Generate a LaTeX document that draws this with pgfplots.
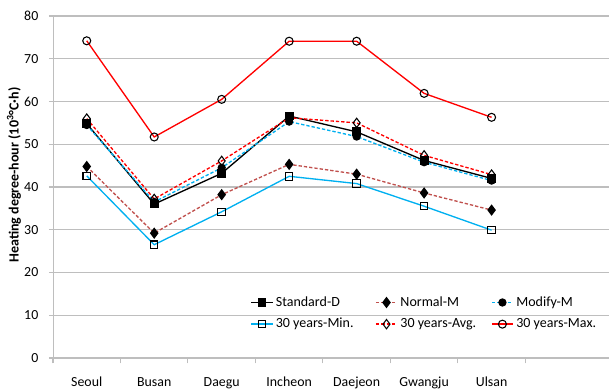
\documentclass[border=0pt]{standalone}
\usepackage{pgfplots}
\pgfplotsset{compat=1.18}
\usepackage{fontspec}
\setmainfont{Carlito}
\definecolor{lblue}{RGB}{0,176,240}
\definecolor{brn}{RGB}{192,80,77}
\definecolor{gridc}{RGB}{190,190,190}
\begin{document}
\begin{tikzpicture}
\begin{axis}[
  scale only axis, width=417pt, height=256.5pt,
  xmin=-0.5, xmax=7.74, ymin=0, ymax=80,
  axis x line*=bottom, axis y line*=left,
  axis line style={draw=gridc, -},
  ytick={0,10,...,80},
  ymajorgrids, grid style={draw=gridc, line width=0.8pt},
  xtick={0,...,6},
  xticklabels={Seoul,Busan,Daegu,Incheon,Daejeon,Gwangju,Ulsan},
  minor xtick={-0.5,0.5,...,6.5},
  major x tick style={draw=none},
  minor x tick style={draw=gridc, line width=0.8pt},
  major y tick style={draw=gridc, line width=0.8pt},
  tick align=outside, major tick length=3pt, minor tick length=4pt,
  xticklabel style={yshift=-8pt},
  yticklabel style={xshift=-4.5pt},
  tick label style={font=\fontsize{10.4}{13}\selectfont},
  /pgf/number format/assume math mode=true,
  ylabel={\textbf{Heating degree-hour (10\textsuperscript{3}°C·h)}},
  ylabel style={font=\fontsize{10.5}{13}\selectfont, at={(ticklabel cs:0.535,-4.5pt)}},
  legend columns=3,
  legend cell align=left,
  legend style={draw=none, fill=none, at={(0.355,0.188)}, anchor=north west,
    font=\fontsize{10.5}{12.5}\selectfont, row sep=3.5pt, inner sep=0pt,
    /tikz/every even column/.append style={column sep=0pt}},
  legend image code/.code={\draw[mark repeat=2,mark phase=2] plot coordinates {(0cm,0cm) (0.28cm,0cm) (0.56cm,0cm)};},
  every axis plot/.append style={line width=1pt},
]
\addplot[black, mark=square*, mark size=2.8pt, mark options={solid, fill=black}]
  coordinates {(0,54.8) (1,36.0) (2,43.2) (3,56.6) (4,52.9) (5,46.2) (6,42.0)};
\addlegendentry{\makebox[72.5pt][l]{Standard-D}}
\addplot[brn, dash pattern=on 2.5pt off 1.5pt, mark=diamond*, mark size=3.5pt, mark options={solid, draw=black, fill=black}]
  coordinates {(0,44.8) (1,29.2) (2,38.2) (3,45.3) (4,43.0) (5,38.6) (6,34.6)};
\addlegendentry{\makebox[66pt][l]{Normal-M}}
\addplot[lblue, dash pattern=on 2.5pt off 1.5pt, mark=*, mark size=2.6pt, mark options={solid, draw=black, fill=black}]
  coordinates {(0,54.5) (1,36.5) (2,44.5) (3,55.3) (4,51.8) (5,45.8) (6,41.5)};
\addlegendentry{Modify-M}
\addplot[lblue, mark=square, mark size=2.8pt, mark options={solid, draw=black, fill=white, line width=0.8pt}]
  coordinates {(0,42.6) (1,26.5) (2,34.2) (3,42.5) (4,40.8) (5,35.5) (6,29.9)};
\addlegendentry{\makebox[72.5pt][l]{30 years-Min.}}
\addplot[red, dash pattern=on 2.5pt off 1.5pt, mark=diamond, mark size=3.5pt, mark options={solid, draw=black, fill=white, line width=0.8pt}]
  coordinates {(0,56.0) (1,37.2) (2,46.1) (3,56.2) (4,55.0) (5,47.4) (6,42.9)};
\addlegendentry{\makebox[66pt][l]{30 years-Avg.}}
\addplot[red, mark=o, mark size=3pt, mark options={solid, draw=black, fill=white, line width=0.8pt}]
  coordinates {(0,74.2) (1,51.7) (2,60.5) (3,74.1) (4,74.1) (5,61.9) (6,56.3)};
\addlegendentry{30 years-Max.}
\end{axis}
\pgfresetboundingbox
\path ([shift={(-39.75pt,-24.75pt)}]current axis.south west) rectangle ([shift={(0pt,12pt)}]current axis.north east);
\end{tikzpicture}
\end{document}
